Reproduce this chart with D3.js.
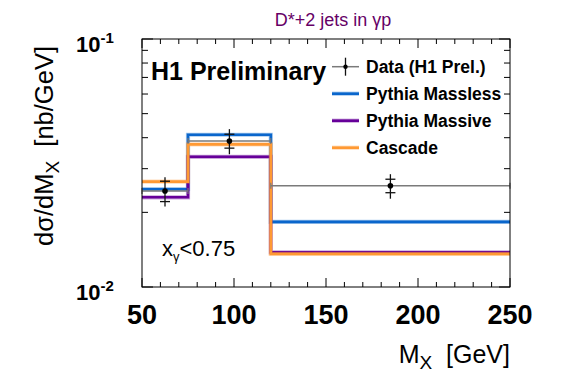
<!DOCTYPE html>
<html>
<head>
<meta charset="utf-8">
<script src="https://cdn.jsdelivr.net/npm/d3@7"></script>
<style>
  body { margin: 0; background: #fff; }
  svg { display: block; font-family: "Liberation Sans", Arial, sans-serif; }
</style>
</head>
<body>
<div id="chart"></div>
<script>
// bins in M_X [GeV]
var binEdges = [50, 75, 120, 250];
// H1 preliminary data
var dataX = [62.5, 97.5, 185];
var dataY = [0.0244, 0.0388, 0.0256];
var statErr = [0.0023, 0.0025, 0.0016];
var totErr = [0.0033, 0.0045, 0.0029];
// model predictions, per bin
var massless = [0.0248, 0.0411, 0.0183];
var massive = [0.0230, 0.0335, 0.0138];
var cascade = [0.0266, 0.0376, 0.0136];

var xTicks = [50, 100, 150, 200, 250];

var width = 567, height = 384;
var padL = 142, padR = 510, padT = 39, padB = 287;

var svg = d3.select("#chart").append("svg")
    .attr("width", width)
    .attr("height", height);

var x = d3.scaleLinear().domain([50, 250]).range([padL, padR]);
var y = d3.scaleLog().domain([0.01, 0.1]).range([padB, padT]);

svg.append("defs").append("clipPath").attr("id", "frame")
    .append("rect")
    .attr("x", padL).attr("y", padT)
    .attr("width", padR - padL).attr("height", padB - padT);

// models as step histograms
var models = [
    { name: "Pythia Massless", values: massless, color: "#0a66cc" },
    { name: "Pythia Massive", values: massive, color: "#660099" },
    { name: "Cascade", values: cascade, color: "#ff9933" }
];

var step = d3.line()
    .x(function(d) { return x(d[0]); })
    .y(function(d) { return y(d[1]); })
    .curve(d3.curveStepAfter);

var hist = svg.append("g").attr("clip-path", "url(#frame)");
models.forEach(function(m) {
    var pts = m.values.map(function(v, i) { return [binEdges[i], v]; });
    pts.push([binEdges[binEdges.length - 1], m.values[m.values.length - 1]]);
    hist.append("path")
        .attr("d", step(pts))
        .attr("fill", "none")
        .attr("stroke", m.color)
        .attr("stroke-opacity", 0.35)
        .attr("stroke-width", 4.2);
    hist.append("path")
        .attr("d", step(pts))
        .attr("fill", "none")
        .attr("stroke", m.color)
        .attr("stroke-width", 2.6);
});

// data: bin width line, error bars, markers
var dataG = svg.append("g");
dataY.forEach(function(v, i) {
    var x0 = x(binEdges[i]), x1 = x(binEdges[i + 1]), yy = y(v);
    dataG.append("line")
        .attr("x1", x0).attr("x2", x1).attr("y1", yy).attr("y2", yy)
        .attr("stroke", "#7a7a7a").attr("stroke-width", 1.5);
    [x0, x1].forEach(function(xe) {
        dataG.append("line")
            .attr("x1", xe).attr("x2", xe).attr("y1", yy - 3).attr("y2", yy + 3)
            .attr("stroke", "#7a7a7a").attr("stroke-width", 1.2);
    });
    var xp = x(dataX[i]);
    dataG.append("line")
        .attr("x1", xp).attr("x2", xp)
        .attr("y1", y(v + totErr[i])).attr("y2", y(v - totErr[i]))
        .attr("stroke", "#111").attr("stroke-width", 1.3);
    [v + statErr[i], v - statErr[i]].forEach(function(s) {
        dataG.append("line")
            .attr("x1", xp - 5).attr("x2", xp + 5).attr("y1", y(s)).attr("y2", y(s))
            .attr("stroke", "#111").attr("stroke-width", 1.3);
    });
    dataG.append("circle")
        .attr("cx", xp).attr("cy", yy).attr("r", 2.8)
        .attr("fill", "#000");
});

// frame and ticks
svg.append("rect")
    .attr("x", padL).attr("y", padT)
    .attr("width", padR - padL).attr("height", padB - padT)
    .attr("fill", "none").attr("stroke", "#000").attr("stroke-width", 1);

var ticks = svg.append("g").attr("stroke", "#000").attr("stroke-width", 1);
d3.range(50, 251, 10).forEach(function(t) {
    var len = (t % 50 === 0) ? 9 : 5;
    ticks.append("line").attr("x1", x(t)).attr("x2", x(t))
        .attr("y1", padB).attr("y2", padB - len);
    ticks.append("line").attr("x1", x(t)).attr("x2", x(t))
        .attr("y1", padT).attr("y2", padT + len);
});
y.ticks().forEach(function(t) {
    var major = Math.abs(Math.log10(t) - Math.round(Math.log10(t))) < 1e-6;
    var len = major ? 11 : 6;
    ticks.append("line").attr("x1", padL).attr("x2", padL + len)
        .attr("y1", y(t)).attr("y2", y(t));
    ticks.append("line").attr("x1", padR).attr("x2", padR - len)
        .attr("y1", y(t)).attr("y2", y(t));
});

// x tick labels
svg.append("g").selectAll("text")
    .data(xTicks)
    .enter().append("text")
    .attr("x", function(d) { return x(d); })
    .attr("y", 324)
    .attr("text-anchor", "middle")
    .attr("font-weight", "bold")
    .attr("font-size", 27)
    .text(function(d) { return d; });

// y tick labels (10^-1, 10^-2)
[[0.1, "-1"], [0.01, "-2"]].forEach(function(d) {
    var t = svg.append("text")
        .attr("x", 76)
        .attr("y", y(d[0]) + 13)
        .attr("font-weight", "bold")
        .attr("font-size", 22);
    t.append("tspan").text("10");
    t.append("tspan").attr("dy", -9).attr("font-size", 15).text(d[1]);
});

// axis titles
var yl = svg.append("text")
    .attr("transform", "translate(53,146)rotate(-90)")
    .attr("text-anchor", "middle")
    .attr("font-size", 25.5);
yl.append("tspan").text("d\u03c3/dM");
yl.append("tspan").attr("dy", 6).attr("font-size", 19).text("X");
yl.append("tspan").attr("dy", -6).text("\u00a0\u00a0[nb/GeV]");

var xl = svg.append("text")
    .attr("x", padR)
    .attr("y", 363)
    .attr("text-anchor", "end")
    .attr("font-size", 25);
xl.append("tspan").text("M");
xl.append("tspan").attr("dy", 6).attr("font-size", 19).text("X");
xl.append("tspan").attr("dy", -6).text("\u00a0\u00a0[GeV]");

// title
svg.append("text")
    .attr("x", 333)
    .attr("y", 26)
    .attr("text-anchor", "middle")
    .attr("font-size", 18)
    .attr("fill", "#660066")
    .text("D*+2 jets in \u03b3p");

svg.append("text")
    .attr("x", 151)
    .attr("y", 80)
    .attr("font-weight", "bold")
    .attr("font-size", 25)
    .text("H1 Preliminary");

var xg = svg.append("text")
    .attr("x", 162)
    .attr("y", 256)
    .attr("font-size", 22);
xg.append("tspan").text("x");
xg.append("tspan").attr("dy", 5).attr("font-size", 13).text("\u03b3");
xg.append("tspan").attr("dy", -5).text("<0.75");

// legend
var legendNames = ["Data (H1 Prel.)", "Pythia Massless", "Pythia Massive", "Cascade"];
var legend = svg.append("g");
legendNames.forEach(function(name, i) {
    var cy = 66.7 + i * 27;
    if (i === 0) {
        legend.append("line").attr("x1", 332).attr("x2", 359)
            .attr("y1", cy).attr("y2", cy)
            .attr("stroke", "#7a7a7a").attr("stroke-width", 1.5);
        legend.append("line").attr("x1", 345.5).attr("x2", 345.5)
            .attr("y1", cy - 9).attr("y2", cy + 9)
            .attr("stroke", "#111").attr("stroke-width", 1.3);
        legend.append("circle").attr("cx", 345.5).attr("cy", cy).attr("r", 2.2)
            .attr("fill", "#000");
    } else {
        var m = models[i - 1];
        legend.append("line").attr("x1", 332).attr("x2", 359)
            .attr("y1", cy).attr("y2", cy)
            .attr("stroke", m.color).attr("stroke-opacity", 0.35).attr("stroke-width", 4.2);
        legend.append("line").attr("x1", 332).attr("x2", 359)
            .attr("y1", cy).attr("y2", cy)
            .attr("stroke", m.color).attr("stroke-width", 2.6);
    }
    legend.append("text")
        .attr("x", 366)
        .attr("y", cy + 6.5)
        .attr("font-weight", "bold")
        .attr("font-size", 17.5)
        .text(name);
});
</script>
</body>
</html>
